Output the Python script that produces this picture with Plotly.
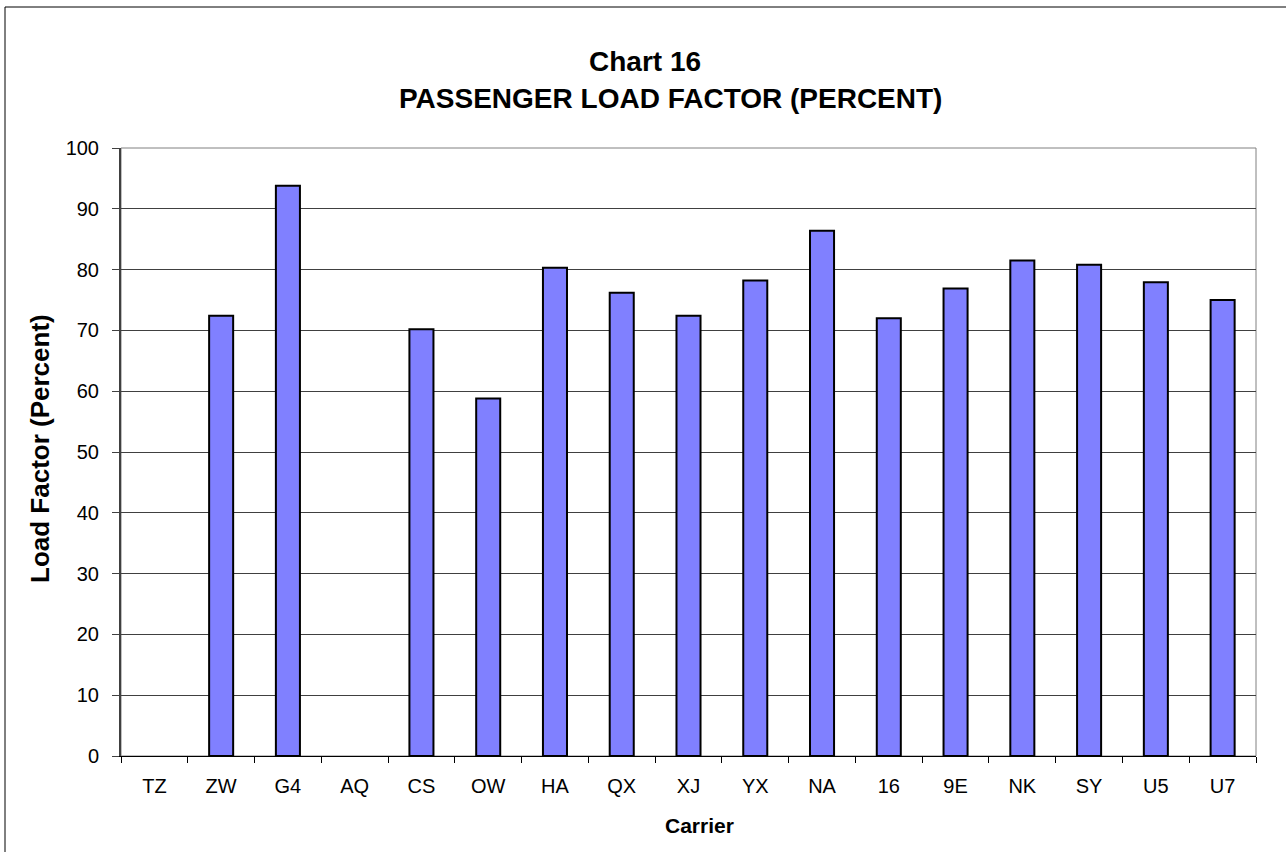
import plotly.graph_objects as go

carriers = ["TZ", "ZW", "G4", "AQ", "CS", "OW", "HA", "QX", "XJ", "YX",
            "NA", "16", "9E", "NK", "SY", "U5", "U7"]
load_factor = [None, 72.4, 93.8, None, 70.2, 58.8, 80.3, 76.2, 72.4, 78.2,
               86.4, 72.0, 76.9, 81.5, 80.8, 77.9, 75.0]
y_ticks = [0, 10, 20, 30, 40, 50, 60, 70, 80, 90, 100]
title_line1 = "Chart 16"
title_line2 = "PASSENGER LOAD FACTOR (PERCENT)"
x_title = "Carrier"
y_title = "Load Factor (Percent)"

FONT = "Liberation Sans, Arial, sans-serif"

fig = go.Figure()
fig.add_trace(go.Bar(
    x=carriers, y=load_factor,
    marker=dict(color="#8080FF", line=dict(color="#000000", width=2)),
))

L, R, T, B = 121, 30, 148, 96
W, H = 1286, 852
pw, ph = W - L - R, H - T - B


def px_x(p):
    return (p - L) / pw


def px_y(p):
    return (H - B - p) / ph


def ann(text, xp, yp, size, angle=0):
    return dict(text="<b>" + text + "</b>", xref="paper", yref="paper",
                x=px_x(xp), y=px_y(yp), xanchor="center", yanchor="middle",
                showarrow=False, textangle=angle,
                font=dict(family=FONT, size=size, color="#000000"))


fig.update_layout(
    width=W, height=H,
    margin=dict(l=L, r=R, t=T, b=B),
    paper_bgcolor="white", plot_bgcolor="white",
    showlegend=False,
    bargap=0.64,
    font=dict(family=FONT, color="#000000", size=20),
    xaxis=dict(
        type="category",
        showgrid=False, showline=True, linecolor="#000000", linewidth=1,
        ticks="outside", tickson="boundaries", ticklen=6, tickcolor="#000000",
        tickfont=dict(size=20), ticklabelstandoff=12,
    ),
    yaxis=dict(
        range=[0, 100], tickvals=y_ticks,
        showgrid=True, gridcolor="#404040", gridwidth=1,
        showline=True, linecolor="#404040", linewidth=2,
        ticks="outside", ticklen=7, tickcolor="#404040",
        tickfont=dict(size=20), zeroline=False, ticklabelstandoff=9,
    ),
    annotations=[
        ann(title_line1, 645, 62, 28),
        ann(title_line2, 670, 99, 28),
        ann(x_title, 699, 825, 21),
        ann(y_title, 40, 449, 26, angle=-90),
    ],
    shapes=[
        dict(type="rect", xref="paper", yref="paper", x0=0, x1=1, y0=0, y1=1,
             line=dict(color="#808080", width=1), layer="below"),
        dict(type="line", xref="paper", yref="paper",
             x0=px_x(5), x1=px_x(5), y0=px_y(7), y1=px_y(852),
             line=dict(color="#000000", width=1)),
        dict(type="line", xref="paper", yref="paper",
             x0=px_x(5), x1=px_x(1286), y0=px_y(7), y1=px_y(7),
             line=dict(color="#000000", width=1)),
    ],
)

fig.write_html("out.html", config={"displayModeBar": False},
               post_script="document.body.style.margin='0';")
